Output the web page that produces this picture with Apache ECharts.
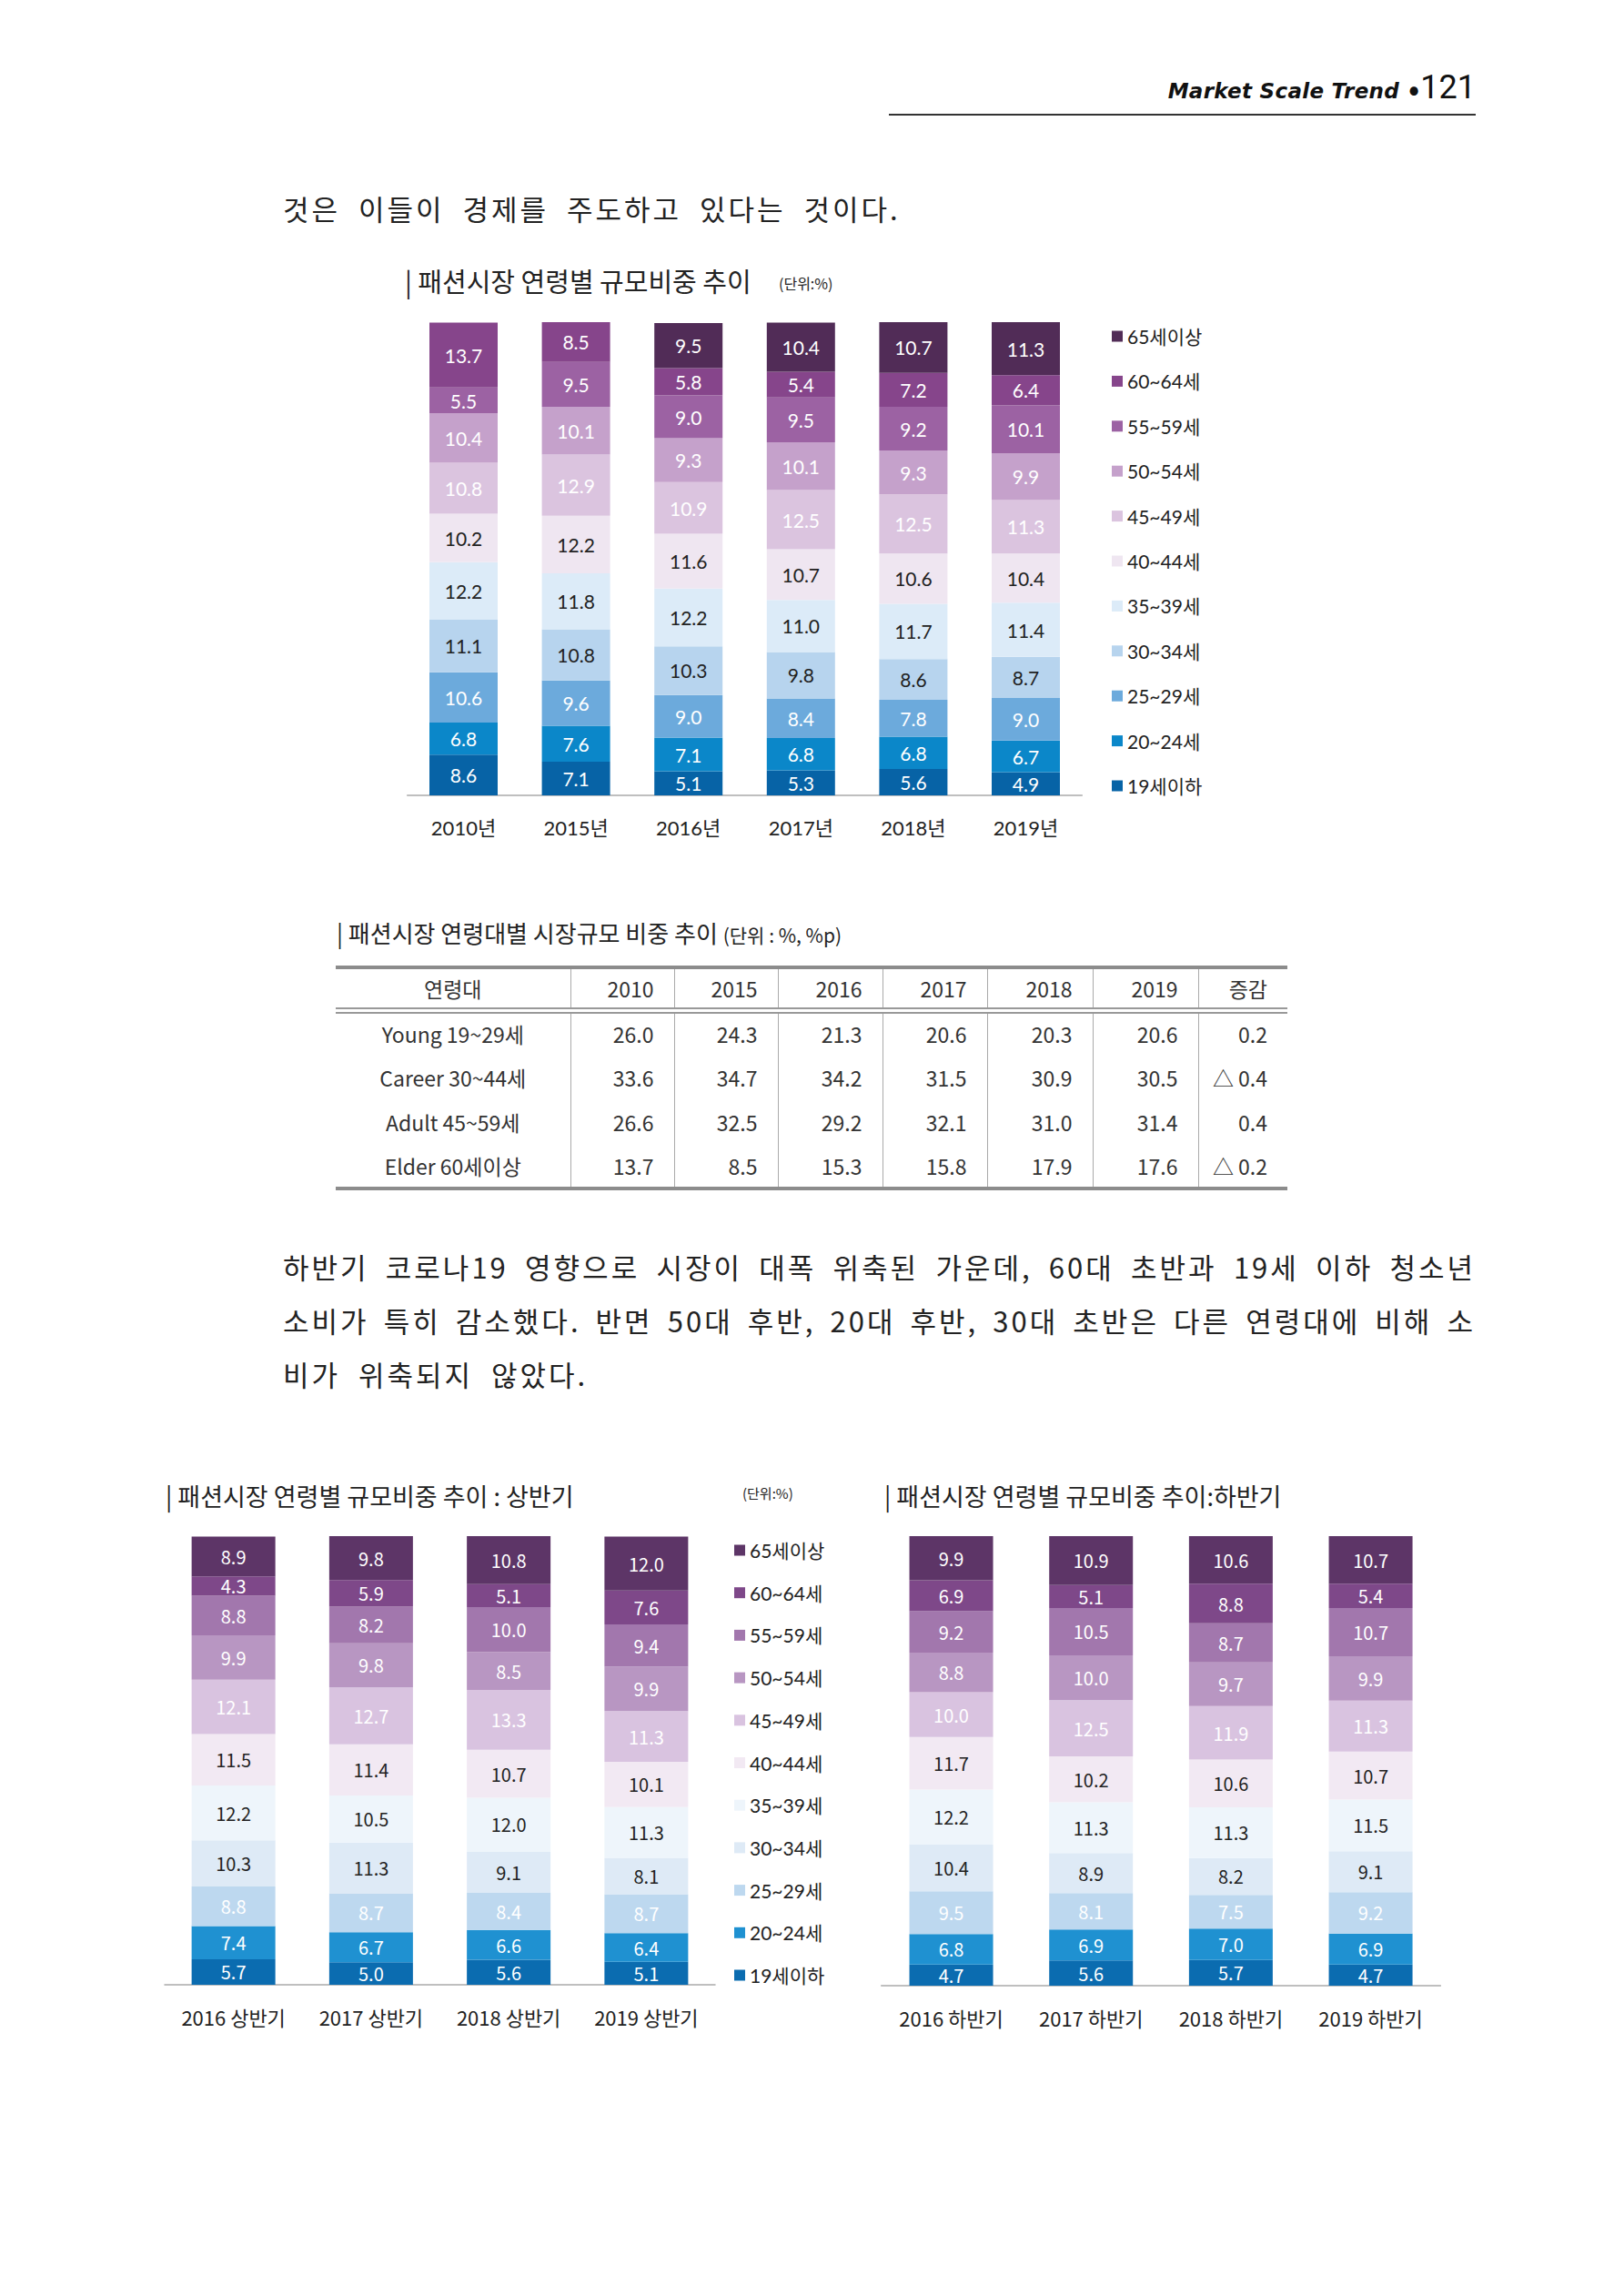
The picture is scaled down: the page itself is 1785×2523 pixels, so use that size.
<!DOCTYPE html>
<html>
<head>
<meta charset="utf-8">
<title>패션시장 연령별 규모비중 추이</title>
<script src="https://cdn.jsdelivr.net/npm/echarts@6/dist/echarts.min.js"></script>
<style>
  body { margin: 0; background: #fff; }
  #page { position: relative; width: 1785px; height: 2523px; overflow: hidden; background: #fff;
          font-family: "Noto Sans CJK KR", sans-serif; color: #222; }
  .abs { position: absolute; }
  .hdr { right: 163px; top: 70px; height: 50px; line-height: 50px; white-space: nowrap; color: #111; }
  .hdr .t { font-family: "DejaVu Sans", sans-serif; font-weight: bold; font-style: italic; font-size: 23px; letter-spacing: 0.3px; }
  .hdr .dot { font-size: 36px; margin: 0 1px 0 10px; vertical-align: -3px; }
  .hdr .n { font-family: "Liberation Sans Narrow", Roboto, sans-serif; font-size: 36px; }
  .hline { left: 977px; top: 125px; width: 645px; height: 2px; background: #333; }
  .para { left: 311px; width: 1311px; font-size: 31px; color: #222; white-space: nowrap; letter-spacing: 3px; }
  .para div { height: 59px; line-height: 59px; word-spacing: 10px; }
  .para .j { text-align: justify; text-align-last: justify; white-space: normal; word-spacing: 0; }
  .tcap { left: 370px; top: 1006px; font-family: "Liberation Sans Narrow", "Noto Sans CJK KR", sans-serif;
          font-size: 26px; line-height: 38px; color: #222; white-space: nowrap; }
  .tcap small { font-size: 21px; }
  #tbl { left: 369px; top: 1061px; width: 1046px; border-collapse: collapse; table-layout: fixed;
         font-family: "Liberation Sans Narrow", "Noto Sans CJK KR", sans-serif; font-size: 23px; color: #333; }
  #tbl th, #tbl td { border-left: 1px solid #aaa; border-right: 1px solid #aaa; text-align: right; padding: 0 22px 0 0; font-weight: normal; }
  #tbl tr > :first-child { border-left: none; text-align: center; padding: 0; }
  #tbl tr > :last-child { border-right: none; border-left: 1px dashed #999; }
  #tbl thead tr { border-top: 4px solid #8c8c8c; border-bottom: 7px double #999; height: 47px; }
  #tbl tbody tr { height: 49px; }
  #tbl tbody tr:last-child { border-bottom: 4px solid #8c8c8c; }
  .chart { position: absolute; }
</style>
</head>
<body>
<div id="page">
  <div class="abs hdr"><span class="t">Market Scale Trend</span><span class="dot">•</span><span class="n">121</span></div>
  <div class="abs hline"></div>

  <div class="abs para" style="top:199px;"><div>것은 이들이 경제를 주도하고 있다는 것이다.</div></div>

  <div id="chartTop" class="chart" style="left:430px; top:280px; width:980px; height:660px;"></div>

  <div class="abs tcap">| 패션시장 연령대별 시장규모 비중 추이 <small>(단위 : %, %p)</small></div>
  <table id="tbl" class="abs"></table>

  <div class="abs para" style="top:1362px;">
    <div class="j">하반기 코로나19 영향으로 시장이 대폭 위축된 가운데, 60대 초반과 19세 이하 청소년</div>
    <div class="j">소비가 특히 감소했다. 반면 50대 후반, 20대 후반, 30대 초반은 다른 연령대에 비해 소</div>
    <div>비가 위축되지 않았다.</div>
  </div>

  <div id="chartH1" class="chart" style="left:165px; top:1610px; width:770px; height:640px;"></div>
  <div id="chartH2" class="chart" style="left:955px; top:1610px; width:660px; height:640px;"></div>
</div>

<script>
// age groups, bottom of the stack first
const ageGroups = ['19세이하', '20~24세', '25~29세', '30~34세', '35~39세', '40~44세',
                   '45~49세', '50~54세', '55~59세', '60~64세', '65세이상'];

// top chart: yearly shares (%), same order as ageGroups
// 2010 / 2015 only have a single "60세이상" value (drawn in the 60~64 colour)
const yearsTop = ['2010년', '2015년', '2016년', '2017년', '2018년', '2019년'];
const share2010 = [8.6, 6.8, 10.6, 11.1, 12.2, 10.2, 10.8, 10.4, 5.5, 13.7, null];
const share2015 = [7.1, 7.6, 9.6, 10.8, 11.8, 12.2, 12.9, 10.1, 9.5, 8.5, null];
const share2016 = [5.1, 7.1, 9.0, 10.3, 12.2, 11.6, 10.9, 9.3, 9.0, 5.8, 9.5];
const share2017 = [5.3, 6.8, 8.4, 9.8, 11.0, 10.7, 12.5, 10.1, 9.5, 5.4, 10.4];
const share2018 = [5.6, 6.8, 7.8, 8.6, 11.7, 10.6, 12.5, 9.3, 9.2, 7.2, 10.7];
const share2019 = [4.9, 6.7, 9.0, 8.7, 11.4, 10.4, 11.3, 9.9, 10.1, 6.4, 11.3];

// first half (상반기)
const halvesH1 = ['2016 상반기', '2017 상반기', '2018 상반기', '2019 상반기'];
const h1_2016 = [5.7, 7.4, 8.8, 10.3, 12.2, 11.5, 12.1, 9.9, 8.8, 4.3, 8.9];
const h1_2017 = [5.0, 6.7, 8.7, 11.3, 10.5, 11.4, 12.7, 9.8, 8.2, 5.9, 9.8];
const h1_2018 = [5.6, 6.6, 8.4, 9.1, 12.0, 10.7, 13.3, 8.5, 10.0, 5.1, 10.8];
const h1_2019 = [5.1, 6.4, 8.7, 8.1, 11.3, 10.1, 11.3, 9.9, 9.4, 7.6, 12.0];

// second half (하반기)
const halvesH2 = ['2016 하반기', '2017 하반기', '2018 하반기', '2019 하반기'];
const h2_2016 = [4.7, 6.8, 9.5, 10.4, 12.2, 11.7, 10.0, 8.8, 9.2, 6.9, 9.9];
const h2_2017 = [5.6, 6.9, 8.1, 8.9, 11.3, 10.2, 12.5, 10.0, 10.5, 5.1, 10.9];
const h2_2018 = [5.7, 7.0, 7.5, 8.2, 11.3, 10.6, 11.9, 9.7, 8.7, 8.8, 10.6];
const h2_2019 = [4.7, 6.9, 9.2, 9.1, 11.5, 10.7, 11.3, 9.9, 10.7, 5.4, 10.7];

// table
const tableHead = ['연령대', '2010', '2015', '2016', '2017', '2018', '2019', '증감'];
const tableRows = ['Young 19~29세', 'Career 30~44세', 'Adult 45~59세', 'Elder 60세이상'];
const youngVals = [26.0, 24.3, 21.3, 20.6, 20.3, 20.6];
const careerVals = [33.6, 34.7, 34.2, 31.5, 30.9, 30.5];
const adultVals = [26.6, 32.5, 29.2, 32.1, 31.0, 31.4];
const elderVals = [13.7, 8.5, 15.3, 15.8, 17.9, 17.6];
const changeVals = ['0.2', '△ 0.4', '0.4', '△ 0.2'];

const colorsTop = ['#0763a6', '#0b87c9', '#6caadc', '#b7d4ee', '#dcebf8', '#efe6f1',
                   '#dbc4df', '#c5a1cb', '#9c62a3', '#86458b', '#512c57'];
const colorsHalf = ['#0b6cb0', '#1f91d1', '#bdd8ef', '#deeaf6', '#eef5fb', '#f2e9f3',
                    '#d9c3e0', '#b896c2', '#a277ad', '#7e4889', '#5d3567'];
const labelColors = ['#fff', '#fff', '#fff', '#222', '#222', '#222', '#fff', '#fff', '#fff', '#fff', '#fff'];

const KR = '"Noto Sans CJK KR"';
const GEO = 'Lato, ' + KR;
const NARROW = '"Liberation Sans Narrow", ' + KR;

function buildSeries(cols, colors, font, size, barWidth) {
  return ageGroups.map(function (name, i) {
    return {
      name: name,
      type: 'bar',
      stack: 'total',
      barWidth: barWidth,
      data: cols.map(function (c) { return c[i]; }),
      itemStyle: { color: colors[i] },
      label: {
        show: true,
        position: 'inside',
        color: labelColors[i],
        fontFamily: font,
        fontSize: size,
        formatter: function (p) { return p.value == null ? '' : p.value.toFixed(1); }
      },
      emphasis: { disabled: true }
    };
  });
}

function stackOption(o) {
  return {
    animation: false,
    title: o.titles,
    legend: o.legend,
    grid: o.grid,
    xAxis: {
      type: 'category',
      data: o.cats,
      axisTick: { show: false },
      axisLine: { lineStyle: { color: '#aaa', width: 1.5 } },
      axisLabel: { margin: 24, color: '#222', fontFamily: o.axisFont, fontSize: o.axisSize }
    },
    yAxis: { type: 'value', min: 0, max: 100, show: false },
    series: buildSeries(o.cols, o.colors, o.labelFont, o.labelSize, o.barWidth)
  };
}

function legendFor(left, top, gap, font) {
  return {
    orient: 'vertical',
    left: left,
    top: top,
    icon: 'rect',
    itemWidth: 12,
    itemHeight: 12,
    itemGap: gap,
    selectedMode: false,
    data: ageGroups.slice().reverse(),
    textStyle: { color: '#222', fontFamily: font, fontSize: 21, lineHeight: 21 }
  };
}

// top chart
const chartTop = echarts.init(document.getElementById('chartTop'), null, { renderer: 'svg' });
chartTop.setOption(stackOption({
  titles: [
    { text: '| 패션시장 연령별 규모비중 추이', left: 10, top: 8,
      textStyle: { fontFamily: KR, fontSize: 29, fontWeight: 'normal', color: '#222' } },
    { text: '(단위:%)', left: 421, top: 18,
      textStyle: { fontFamily: NARROW, fontSize: 16, fontWeight: 'normal', color: '#222' } }
  ],
  legend: legendFor(787, 74, 28.4, GEO),
  grid: { left: 17.7, top: 74, width: 741.6, height: 520 },
  cats: yearsTop,
  cols: [share2010, share2015, share2016, share2017, share2018, share2019],
  colors: colorsTop,
  labelFont: GEO, labelSize: 21,
  axisFont: GEO, axisSize: 22,
  barWidth: 75
}));

// first-half chart, carries the shared legend
const chartH1 = echarts.init(document.getElementById('chartH1'), null, { renderer: 'svg' });
chartH1.setOption(stackOption({
  titles: [
    { text: '| 패션시장 연령별 규모비중 추이 : 상반기', left: 12, top: 15,
      textStyle: { fontFamily: KR, fontSize: 27, fontWeight: 'normal', color: '#222' } },
    { text: '(단위:%)', left: 646, top: 18,
      textStyle: { fontFamily: NARROW, fontSize: 15, fontWeight: 'normal', color: '#222' } }
  ],
  legend: legendFor(637, 78, 25.7, GEO),
  grid: { left: 16, top: 78, width: 605, height: 493 },
  cats: halvesH1,
  cols: [h1_2016, h1_2017, h1_2018, h1_2019],
  colors: colorsHalf,
  labelFont: NARROW, labelSize: 20,
  axisFont: NARROW, axisSize: 22,
  barWidth: 92
}));

// second-half chart
const chartH2 = echarts.init(document.getElementById('chartH2'), null, { renderer: 'svg' });
chartH2.setOption(stackOption({
  titles: [
    { text: '| 패션시장 연령별 규모비중 추이:하반기', left: 12, top: 15,
      textStyle: { fontFamily: KR, fontSize: 27, fontWeight: 'normal', color: '#222' } }
  ],
  legend: { show: false },
  grid: { left: 13.7, top: 78, width: 614.7, height: 494 },
  cats: halvesH2,
  cols: [h2_2016, h2_2017, h2_2018, h2_2019],
  colors: colorsHalf,
  labelFont: NARROW, labelSize: 20,
  axisFont: NARROW, axisSize: 22,
  barWidth: 92
}));

// table
(function buildTable() {
  const tbl = document.getElementById('tbl');
  const widths = [258, 114, 114, 115, 115, 116, 116, 98];
  let html = '<colgroup>' + widths.map(function (w) { return '<col style="width:' + w + 'px">'; }).join('') + '</colgroup>';
  html += '<thead><tr>' + tableHead.map(function (h) { return '<th>' + h + '</th>'; }).join('') + '</tr></thead><tbody>';
  const rowVals = [youngVals, careerVals, adultVals, elderVals];
  tableRows.forEach(function (name, r) {
    html += '<tr><td>' + name + '</td>' +
      rowVals[r].map(function (v) { return '<td>' + v.toFixed(1) + '</td>'; }).join('') +
      '<td>' + changeVals[r] + '</td></tr>';
  });
  tbl.innerHTML = html + '</tbody>';
})();
</script>
</body>
</html>
